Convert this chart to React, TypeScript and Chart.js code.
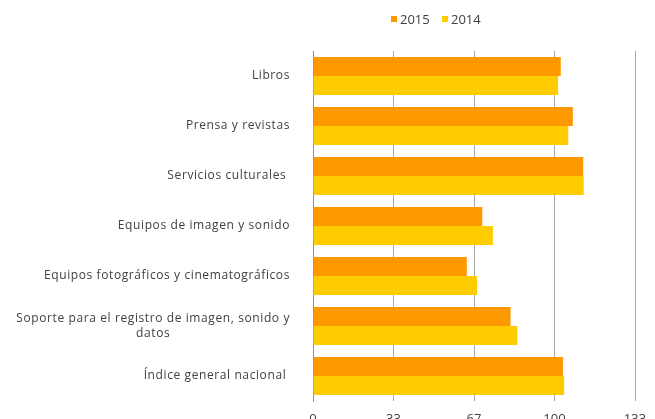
import React, { useEffect, useRef } from "react";
import { Chart, registerables } from "chart.js";

Chart.register(...registerables);

const categories: (string | string[])[] = [
  "Libros",
  "Prensa y revistas",
  "Servicios culturales ",
  "Equipos de imagen y sonido",
  "Equipos fotográficos y cinematográficos",
  ["Soporte para el registro de imagen, sonido y", "datos"],
  "Índice general nacional ",
];

const seriesNames = ["2015", "2014"];
const values2015 = [102.6, 107.6, 111.9, 70.1, 63.7, 81.8, 103.5];
const values2014 = [101.5, 105.7, 112.1, 74.5, 67.9, 84.6, 104.0];
const xTickLabels = ["0", "33", "67", "100", "133"];

const COLORS = ["#FF9900", "#FFCC00"];
const FONT = '"Open Sans", "DejaVu Sans", sans-serif';
const TEXT = "#404040";

const yLabelsPlugin = {
  id: "yLabels",
  afterDraw(chart: any) {
    const ctx = chart.ctx;
    const yScale = chart.scales.y;
    const right = chart.chartArea.left - 23;
    ctx.save();
    ctx.font = `12px ${FONT}`;
    try {
      (ctx as any).letterSpacing = "0.6px";
    } catch (e) {}
    ctx.fillStyle = TEXT;
    ctx.textBaseline = "middle";
    ctx.textAlign = "center";
    categories.forEach((lab, i) => {
      const lines = Array.isArray(lab) ? lab : [lab];
      const w = Math.max(...lines.map((l) => ctx.measureText(l).width));
      const cx = right - w / 2;
      const cy = yScale.getPixelForValue(i);
      const lh = 15;
      lines.forEach((l, j) => {
        ctx.fillText(l, cx, cy + (j - (lines.length - 1) / 2) * lh);
      });
    });
    ctx.restore();
  },
};

export default function App() {
  const ref = useRef<HTMLCanvasElement>(null);
  useEffect(() => {
    if (!ref.current) return;
    const chart = new Chart(ref.current, {
      type: "bar",
      data: {
        labels: categories.map((c) => (Array.isArray(c) ? c.join(" ") : c)),
        datasets: [
          {
            label: seriesNames[0],
            data: values2015,
            backgroundColor: COLORS[0],
            categoryPercentage: 0.76,
            barPercentage: 1,
          },
          {
            label: seriesNames[1],
            data: values2014,
            backgroundColor: COLORS[1],
            categoryPercentage: 0.76,
            barPercentage: 1,
          },
        ],
      },
      options: {
        indexAxis: "y",
        responsive: false,
        animation: false,
        layout: { padding: { top: 51, right: 20, left: 0, bottom: 0 } },
        plugins: {
          legend: { display: false },
          tooltip: { enabled: false },
        },
        scales: {
          x: {
            min: 0,
            max: 400 / 3,
            ticks: {
              stepSize: 100 / 3,
              padding: 10,
              color: TEXT,
              font: { family: FONT, size: 13 },
              callback: (_v: any, i: number) => xTickLabels[i],
            },
            grid: { color: "#a6a6a6", lineWidth: 1, drawTicks: false },
            border: { display: false },
            afterFit: (s: any) => {
              s.height = 18;
              s.paddingLeft = 0;
              s.paddingRight = 0;
            },
          },
          y: {
            ticks: { display: false },
            grid: { display: false, drawTicks: false },
            border: { display: true, color: "#8c8c8c", width: 1 },
            afterFit: (s: any) => {
              s.width = 313;
              s.paddingTop = 0;
              s.paddingBottom = 0;
            },
          },
        },
      },
      plugins: [yLabelsPlugin],
    });
    return () => chart.destroy();
  }, []);

  const legendItem = (name: string, color: string, left: number) => (
    <div
      style={{
        position: "absolute",
        left,
        top: 10,
        display: "flex",
        alignItems: "center",
        fontFamily: FONT,
        fontSize: 13,
        color: TEXT,
        lineHeight: "18px",
      }}
    >
      <span
        style={{
          display: "inline-block",
          width: 6,
          height: 6,
          background: color,
          marginRight: 3,
        }}
      />
      <span>{name}</span>
    </div>
  );

  return (
    <div
      style={{
        position: "fixed",
        left: 0,
        top: 0,
        width: 655,
        height: 419,
        background: "#fff",
        overflow: "hidden",
      }}
    >
      <canvas ref={ref} width={655} height={419} style={{ width: 655, height: 419, display: "block" }} />
      {legendItem(seriesNames[0], COLORS[0], 391)}
      {legendItem(seriesNames[1], COLORS[1], 442)}
    </div>
  );
}
